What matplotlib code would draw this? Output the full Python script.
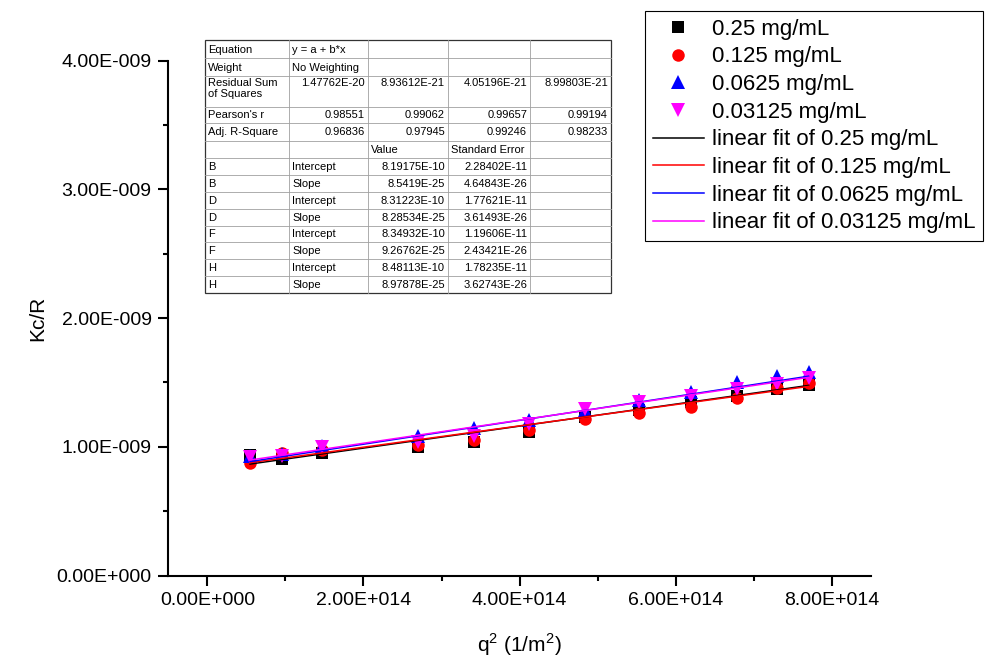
import numpy as np
import matplotlib.pyplot as plt
from matplotlib.ticker import FuncFormatter, MultipleLocator

plt.rcParams['font.family'] = ['Liberation Sans', 'DejaVu Sans']
plt.rcParams['mathtext.fontset'] = 'custom'
plt.rcParams['mathtext.rm'] = 'Liberation Sans'

# q^2 in 1/m^2
q2 = np.array([0.547, 0.958, 1.47, 2.70, 3.41, 4.12, 4.84, 5.53, 6.19, 6.78, 7.29, 7.70]) * 1e14

# Kc/R for each concentration
kcr_025 = np.array([0.935, 0.904, 0.950, 0.997, 1.036, 1.114, 1.230, 1.284, 1.347, 1.393, 1.448, 1.479]) * 1e-9
kcr_0125 = np.array([0.873, 0.950, 0.974, 1.012, 1.051, 1.129, 1.214, 1.261, 1.308, 1.378, 1.456, 1.495]) * 1e-9
kcr_00625 = np.array([0.927, 0.943, 1.005, 1.082, 1.144, 1.206, 1.284, 1.362, 1.424, 1.502, 1.548, 1.579]) * 1e-9
kcr_003125 = np.array([0.919, 0.927, 0.997, 1.036, 1.082, 1.176, 1.292, 1.347, 1.393, 1.448, 1.486, 1.533]) * 1e-9

conc_labels = ['0.25 mg/mL', '0.125 mg/mL', '0.0625 mg/mL', '0.03125 mg/mL']
col_names = ['B', 'D', 'F', 'H']

# linear fit report
rss = ['1.47762E-20', '8.93612E-21', '4.05196E-21', '8.99803E-21']
pearson_r = ['0.98551', '0.99062', '0.99657', '0.99194']
adj_r2 = ['0.96836', '0.97945', '0.99246', '0.98233']
intercepts = ['8.19175E-10', '8.31223E-10', '8.34932E-10', '8.48113E-10']
intercept_err = ['2.28402E-11', '1.77621E-11', '1.19606E-11', '1.78235E-11']
slopes = ['8.5419E-25', '8.28534E-25', '9.26762E-25', '8.97878E-25']
slope_err = ['4.64843E-26', '3.61493E-26', '2.43421E-26', '3.62743E-26']

series = [kcr_025, kcr_0125, kcr_00625, kcr_003125]
markers = ['s', 'o', '^', 'v']
colors = ['black', 'red', 'blue', 'magenta']
msizes = [8, 9, 9.5, 9.5]


def origin_fmt(v, pos):
    if abs(v) < 1e-30:
        return '0.00E+000'
    exp = int(np.floor(np.log10(abs(v)) + 1e-9))
    mant = v / 10.0**exp
    sign = '+' if exp >= 0 else '-'
    return f'{mant:.2f}E{sign}{abs(exp):03d}'


W, H = 989, 661
fig = plt.figure(figsize=(W / 100, H / 100), dpi=100)
ax = fig.add_axes([168.3 / W, 1 - 575.5 / H, (871 - 168.3) / W, (575.5 - 60.7) / H])

point_handles = []
for y, m, c, ms, lab in zip(series, markers, colors, msizes, conc_labels):
    h, = ax.plot(q2, y, ls='none', marker=m, color=c, markersize=ms,
                 markeredgewidth=0, label=lab, zorder=2)
    point_handles.append(h)

fit_handles = []
xfit = np.array([q2.min(), q2.max()])
for a, b, c, lab in zip(intercepts, slopes, colors, conc_labels):
    h, = ax.plot(xfit, float(a) + float(b) * xfit, color=c, lw=1.1,
                 label='linear fit of ' + lab, zorder=3)
    fit_handles.append(h)

ax.set_xlim(-0.5e14, 8.5e14)
ax.set_ylim(0, 4e-9)
ax.xaxis.set_major_locator(MultipleLocator(2e14))
ax.xaxis.set_minor_locator(MultipleLocator(1e14))
ax.yaxis.set_major_locator(MultipleLocator(1e-9))
ax.yaxis.set_minor_locator(MultipleLocator(0.5e-9))
ax.xaxis.set_major_formatter(FuncFormatter(origin_fmt))
ax.yaxis.set_major_formatter(FuncFormatter(origin_fmt))

for side in ['top', 'right']:
    ax.spines[side].set_visible(False)
for side in ['left', 'bottom']:
    ax.spines[side].set_linewidth(1.5)
ax.tick_params(which='major', direction='out', length=7, width=1.5, labelsize=14, pad=5)
ax.tick_params(which='minor', direction='out', length=3.6, width=1.5)

ax.set_xlabel(r'q$^\mathregular{2}$ (1/m$^\mathregular{2}$)', fontsize=15)
ax.set_ylabel('Kc/R', fontsize=15)
ax.xaxis.set_label_coords(0.5, -0.108)
ax.yaxis.set_label_coords(-0.172, 0.5)

leg = fig.legend(point_handles + fit_handles,
                 [h.get_label() for h in point_handles + fit_handles],
                 loc='upper left', bbox_to_anchor=(645 / W, 1 - 11 / H),
                 bbox_transform=fig.transFigure, fontsize=16, frameon=True,
                 fancybox=False, edgecolor='black', framealpha=1,
                 borderaxespad=0, borderpad=0.35, labelspacing=0.3,
                 handlelength=2.3, handletextpad=0.35)
leg.get_frame().set_linewidth(0.8)

# fit results table
tab = fig.add_axes([205 / W, 1 - 293 / H, 406 / W, 253 / H])
tab.axis('off')
col_w = [84, 79, 80, 82, 81]
row_h = [18.3, 17.7, 30.7, 16.6, 17.7, 17.3] + [16.9] * 8
tab.set_xlim(0, sum(col_w))
tab.set_ylim(sum(row_h), 0)

rows = [
    [('Equation', 'l'), ('y = a + b*x', 'l'), ('', 'l'), ('', 'l'), ('', 'l')],
    [('Weight', 'l'), ('No Weighting', 'l'), ('', 'l'), ('', 'l'), ('', 'l')],
    [('Residual Sum\nof Squares', 'l')] + [(v, 'r') for v in rss],
    [("Pearson's r", 'l')] + [(v, 'r') for v in pearson_r],
    [('Adj. R-Square', 'l')] + [(v, 'r') for v in adj_r2],
    [('', 'l'), ('', 'l'), ('Value', 'l'), ('Standard Error', 'l'), ('', 'l')],
]
for i, name in enumerate(col_names):
    rows.append([(name, 'l'), ('Intercept', 'l'), (intercepts[i], 'r'), (intercept_err[i], 'r'), ('', 'l')])
    rows.append([(name, 'l'), ('Slope', 'l'), (slopes[i], 'r'), (slope_err[i], 'r'), ('', 'l')])

xs = np.concatenate([[0], np.cumsum(col_w)])
ys = np.concatenate([[0], np.cumsum(row_h)])
for yl in ys[1:-1]:
    tab.plot([0, xs[-1]], [yl, yl], color='#a0a0a0', lw=0.6, clip_on=False)
for xl in xs[1:-1]:
    tab.plot([xl, xl], [0, ys[-1]], color='#a0a0a0', lw=0.6, clip_on=False)
tab.add_patch(plt.Rectangle((0, 0), xs[-1], ys[-1], fill=False, ec='#333333',
                            lw=0.9, clip_on=False))

for r, row in enumerate(rows):
    for c, (txt, al) in enumerate(row):
        if not txt:
            continue
        if al == 'l':
            tx, ha = xs[c] + 3, 'left'
        else:
            tx, ha = xs[c + 1] - 3, 'right'
        if r == 2:
            tab.text(tx, ys[r] + 2, txt, ha=ha, va='top', fontsize=8, linespacing=1.1)
        else:
            tab.text(tx, (ys[r] + ys[r + 1]) / 2 + 0.5, txt, ha=ha, va='center', fontsize=8)

fig.savefig('out.png', dpi=100)
